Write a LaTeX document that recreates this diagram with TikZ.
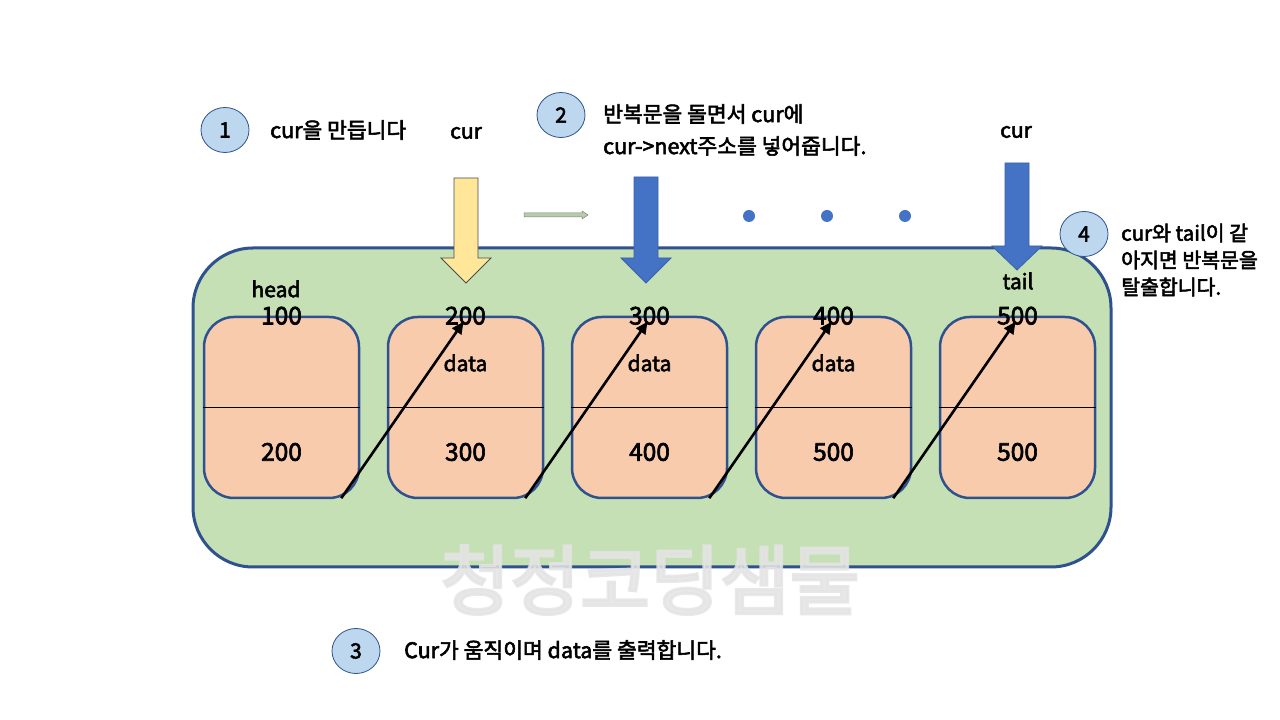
\documentclass[tikz,border=0pt]{standalone}
\usepackage{fontspec}
\newfontfamily\kr{Noto Sans CJK KR}[FakeBold=2.6]
\newfontfamily\krmark{Noto Sans CJK KR}[FakeBold=4]
\usetikzlibrary{arrows.meta,positioning,calc,shapes.geometric}
\definecolor{Leaf}{HTML}{C5E0B4}
\definecolor{Navy}{HTML}{2F528F}
\definecolor{Peach}{HTML}{F8CBAD}
\definecolor{Sky}{HTML}{BDD7EE}
\definecolor{Royal}{HTML}{4472C4}
\definecolor{Butter}{HTML}{FFE699}
\definecolor{Mist}{HTML}{E4E4E4}
\newcommand{\blockarrow}[6]{
  \begin{scope}[shift={(#1,0)}]
    \filldraw[fill=#5, draw=#6, line width=0.8pt]
      (-12,#2) -- (12,#2) -- (12,#3) -- (25,#3) -- (0,#4) -- (-25,#3) -- (-12,#3) -- cycle;
  \end{scope}
}
\newcommand{\gapdot}[1]{
  \fill[Royal] (#1,504) circle (6);
}

\begin{document}
\begin{tikzpicture}[x=1pt,y=1pt,
    txt/.style={font=\kr\fontsize{21.5}{27}\selectfont, inner sep=0pt},
    num/.style={font=\kr\fontsize{24.5}{28}\selectfont, inner sep=0pt},
    lbl/.style={font=\kr\fontsize{21}{24}\selectfont, inner sep=0pt},
    cell/.style={draw=Navy, fill=Peach, line width=2.5pt, rounded corners=30pt,
      minimum width=155pt, minimum height=181pt, inner sep=0pt},
    stepdot/.style={ellipse, draw=Navy, fill=Sky, line width=0.8pt, minimum width=48pt,
      minimum height=45pt, inner sep=0pt, font=\kr\fontsize{21}{24}\selectfont},
    ptr/.style={line width=2.6pt, -{Triangle[length=12pt,width=11pt]}}]
        \useasboundingbox (0,0) rectangle (1280,720);
        \fill[white] (0,0) rectangle (1280,720);
        \filldraw[fill=Leaf, draw=Navy, line width=3pt, rounded corners=60pt] (193,153) rectangle (1111,472);
        \foreach \i/\a/\b in {1/100/200, 2/200/300, 3/300/400, 4/400/500, 5/500/500} {
          \node[cell] (n\i) at ({97.5+184*\i},312.5) {};
          \draw[line width=0.8pt] (n\i.west) -- (n\i.east);
          \node[num] (a\i) at (n\i.north) {\a};
          \node[num] (v\i) at ($(n\i.center)+(0,-44.5)$) {\b};
        }
        \foreach \i in {2,3,4} \node[lbl] (d\i) at ($(n\i.center)+(0,44.5)$) {data};
        \node[lbl] (head) at (276,431) {head};
        \node[lbl] (tail) at (1018,439) {tail};
        \foreach \i/\j in {1/2,2/3,3/4,4/5} {
          \coordinate (s\i) at ($(n\i.south east)+(-19,1)$);
          \coordinate (t\j) at ($(a\j)+(-2,-6)$);
          \draw[ptr] (s\i) -- (t\j);
        }
        \blockarrow{466}{542}{462}{437}{Butter}{black!70}
        \blockarrow{646}{543}{462}{437}{Royal}{Royal!85!black}
        \blockarrow{1017}{557}{474}{450}{Royal}{Royal!85!black}
        \node[lbl] (cur1) at (466,587) {cur};
        \node[lbl] (cur2) at (1016,588) {cur};
        \filldraw[fill=Leaf!80!gray, draw=gray, line width=0.5pt]
          (524,503) -- (582,503) -- (582,501) -- (588,505) -- (582,509) -- (582,507) -- (524,507) -- cycle;
        \gapdot{749}
        \gapdot{827}
        \gapdot{905}
        \node[stepdot] (st1) at (225,590) {1};
        \node[txt, anchor=west] (tx1) at (270,590) {cur을 만듭니다};
        \node[stepdot] (st2) at (561,605) {2};
        \node[txt, anchor=west, align=left, font=\kr\fontsize{21.5}{32}\selectfont] (tx2) at (603,590) {반복문을 돌면서 cur에\\cur->next주소를 넣어줍니다.};
        \node[stepdot] (st3) at (356,69) {3};
        \node[txt, anchor=west] (tx3) at (404,70) {Cur가 움직이며 data를 출력합니다.};
        \node[stepdot] (st4) at (1084,486) {4};
        \node[txt, anchor=west, align=left, font=\kr\fontsize{20.5}{27}\selectfont] (tx4) at (1121,460) {cur와 tail이 같\\아지면 반복문을\\탈출합니다.};
        \node[font=\krmark\fontsize{76}{84}\selectfont, text=Mist, opacity=0.85, inner sep=0pt] (mark) at (650,140) {청정코딩샘물};
      \end{tikzpicture}
\end{document}
